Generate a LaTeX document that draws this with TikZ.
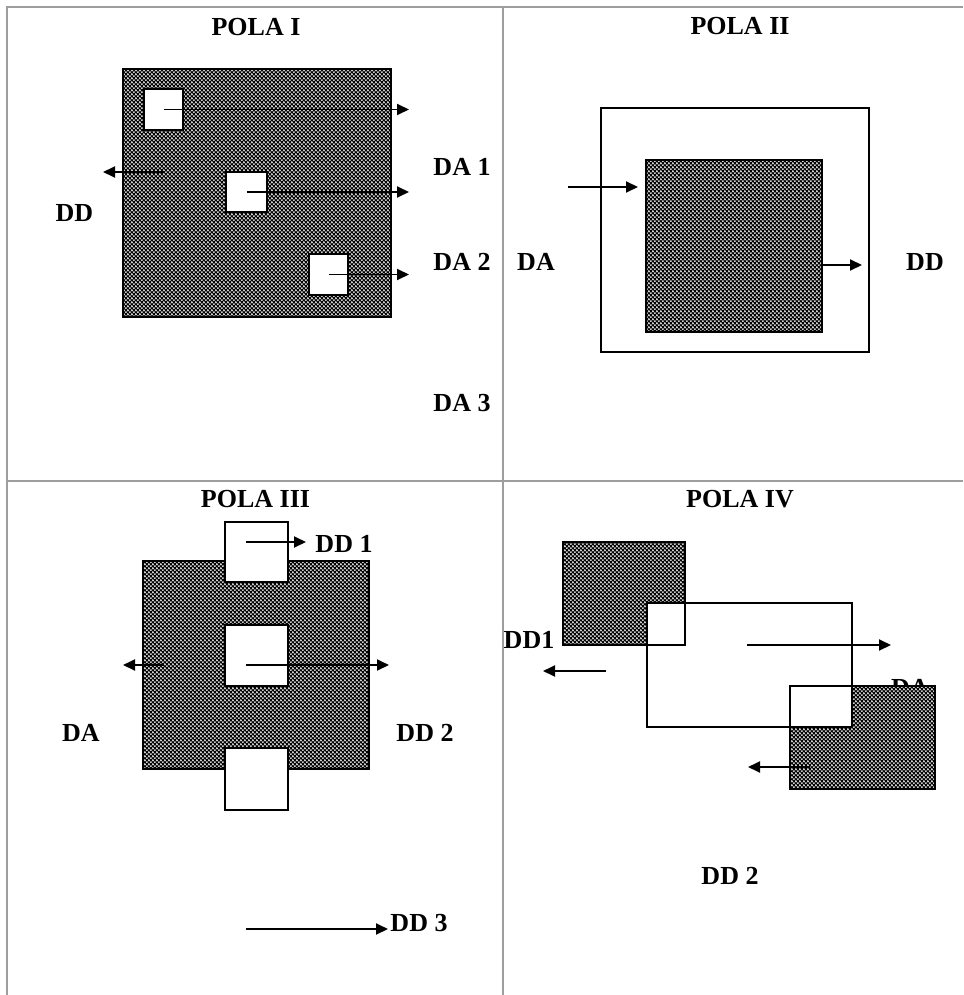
\documentclass[tikz,border=0pt]{standalone}
\usepackage{fontspec}
\setmainfont{Liberation Serif}
\usetikzlibrary{arrows.meta,patterns.meta}

\tikzdeclarepattern{name=checkdots, type=colored,
  bounding box={(0pt,0pt) and (4.2pt,4.2pt)}, tile size={(4.2pt,4.2pt)},
  code={
    \fill[black] (0pt,0pt) rectangle (2.1pt,2.1pt);
    \fill[black] (2.1pt,2.1pt) rectangle (4.2pt,4.2pt);
    \fill[white] (3.15pt,1.05pt) circle (0.8pt);
    \fill[white] (1.05pt,3.15pt) circle (0.8pt);
  }}

\begin{document}
\begin{tikzpicture}[x=1pt,y=-1pt,
  frame/.style={draw=black!38, line width=1.5pt},
  shaded/.style={draw, line width=1.5pt, preaction={fill=black!55}, pattern=checkdots, inner sep=0pt, outer sep=0pt, anchor=north west},
  hollow/.style={draw, line width=1.5pt, fill=white, inner sep=0pt, outer sep=0pt, anchor=north west},
  outline/.style={draw, line width=1.5pt, inner sep=0pt, outer sep=0pt, anchor=north west},
  lbl/.style={font=\fontsize{26}{30}\selectfont\bfseries, inner sep=0pt},
  arr/.style={line width=1.9pt, -{Triangle[length=12pt,width=11pt]}},
]
\useasboundingbox (0,0) rectangle (963,995);
% table frame
\draw[frame] (963,7) -- (7,7) -- (7,995);
\draw[frame] (503,7) -- (503,995);
\draw[frame] (7,481) -- (963,481);

% ---------------- POLA I
\node[lbl] (t1) at (256,27) {POLA I};
\node[shaded, minimum width=268pt, minimum height=248pt] (p1) at (123,69) {};
\node[hollow, minimum width=39pt, minimum height=41pt] (s1a) at (144,89) {};
\node[hollow, minimum width=41pt, minimum height=40pt] (s1b) at (226,172) {};
\node[hollow, minimum width=39pt, minimum height=41pt] (s1c) at (309,254) {};
\coordinate (e1a) at (409,110);
\coordinate (e1b) at (409,192);
\coordinate (e1c) at (409,274);
\coordinate (l1s) at (165,172);
\coordinate (l1e) at (103,172);
\draw[arr] (s1a.center) -- (s1a.center -| e1a);
\draw[arr] (s1b.center) -- (s1b.center -| e1b);
\draw[arr] (s1c.center) -- (s1c.center -| e1c);
\draw[arr] (l1s) -- (l1e);
\node[lbl] (da1) at (462,167) {DA 1};
\node[lbl] (dd1) at (74.5,213) {DD};
\node[lbl] (da2) at (462,262) {DA 2};
\node[lbl] (da3) at (462,403) {DA 3};

% ---------------- POLA II
\node[lbl] (t2) at (740,26) {POLA II};
\node[hollow, minimum width=268pt, minimum height=244pt] (o2) at (601,108) {};
\node[shaded, minimum width=176pt, minimum height=172pt] (p2) at (646,160) {};
\coordinate (i2s) at (568,187);
\coordinate (i2e) at (638,187);
\coordinate (o2e) at (862,265);
\draw[arr] (i2s) -- (i2e);
\draw[arr] (p2.east |- o2e) -- (o2e);
\node[lbl] (da2b) at (536,262) {DA};
\node[lbl] (dd2b) at (925,262) {DD};

% ---------------- POLA III
\node[lbl] (t3) at (255.5,499) {POLA III};
\node[shaded, minimum width=226pt, minimum height=208pt] (p3) at (143,561) {};
\node[hollow, minimum width=63pt, minimum height=60pt] (s3a) at (225,522) {};
\node[hollow, minimum width=63pt, minimum height=61pt] (s3b) at (225,625) {};
\node[hollow, minimum width=63pt, minimum height=62pt] (s3c) at (225,748) {};
\coordinate (a3s) at (246,542);
\coordinate (a3e) at (306,542);
\coordinate (b3s) at (246,665);
\coordinate (b3e) at (389,665);
\coordinate (c3s) at (164,665);
\coordinate (c3e) at (123,665);
\coordinate (d3s) at (246,929);
\coordinate (d3e) at (388,929);
\draw[arr] (a3s) -- (a3e);
\draw[arr] (b3s) -- (b3e);
\draw[arr] (c3s) -- (c3e);
\draw[arr] (d3s) -- (d3e);
\node[lbl] (dd31) at (344,544) {DD 1};
\node[lbl] (da3b) at (81,733) {DA};
\node[lbl] (dd32) at (425,733) {DD 2};
\node[lbl] (dd33) at (419,923) {DD 3};

% ---------------- POLA IV
\node[lbl] (t4) at (740,499) {POLA IV};
\node[lbl] (da4) at (910,688) {DA};
\node[shaded, minimum width=122pt, minimum height=103pt] (p4a) at (563,542) {};
\node[shaded, minimum width=145pt, minimum height=103pt] (p4b) at (790,686) {};
\node[hollow, minimum width=205pt, minimum height=124pt] (o4) at (647,603) {};
\node[outline, minimum width=122pt, minimum height=103pt] (p4ao) at (563,542) {};
\node[outline, minimum width=145pt, minimum height=103pt] (p4bo) at (790,686) {};
\coordinate (r4s) at (747,645);
\coordinate (r4e) at (891,645);
\coordinate (l4s) at (606,671);
\coordinate (l4e) at (543,671);
\coordinate (m4s) at (810,767);
\coordinate (m4e) at (748,767);
\draw[arr] (r4s) -- (r4e);
\draw[arr] (l4s) -- (l4e);
\draw[arr] (m4s) -- (m4e);
\node[lbl] (dd41) at (529,640) {DD1};
\node[lbl] (dd42) at (730,876) {DD 2};
\end{tikzpicture}
\end{document}
